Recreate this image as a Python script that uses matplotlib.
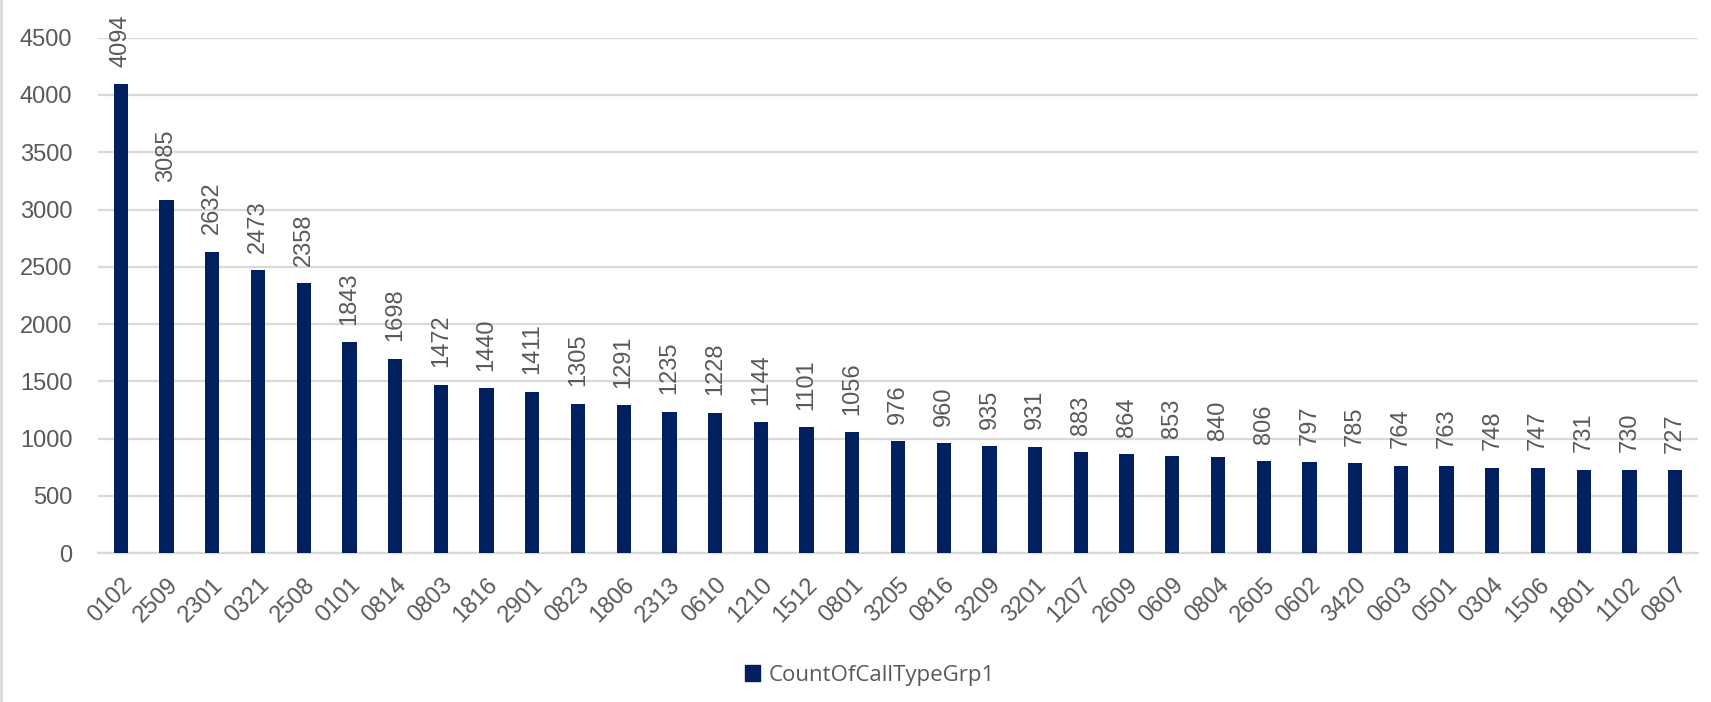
import matplotlib
matplotlib.use("Agg")
import matplotlib.pyplot as plt
from matplotlib.lines import Line2D
from matplotlib.patches import Patch
import numpy as np

categories = ["0102", "2509", "2301", "0321", "2508", "0101", "0814", "0803", "1816", "2901",
              "0823", "1806", "2313", "0610", "1210", "1512", "0801", "3205", "0816", "3209",
              "3201", "1207", "2609", "0609", "0804", "2605", "0602", "3420", "0603", "0501",
              "0304", "1506", "1801", "1102", "0807"]
values = [4094, 3085, 2632, 2473, 2358, 1843, 1698, 1472, 1440, 1411,
          1305, 1291, 1235, 1228, 1144, 1101, 1056, 976, 960, 935,
          931, 883, 864, 853, 840, 806, 797, 785, 764, 763,
          748, 747, 731, 730, 727]
series_name = "CountOfCallTypeGrp1"
yticks = [0, 500, 1000, 1500, 2000, 2500, 3000, 3500, 4000, 4500]

BAR = "#002060"
GREY = "#595959"
GRID = "#D9D9D9"

plt.rcParams['font.family'] = ['Liberation Sans', 'DejaVu Sans']

W, H = 1711, 702
fig = plt.figure(figsize=(W / 100, H / 100), dpi=100)
ax = fig.add_axes([98 / W, 1 - 553.3 / H, (1698 - 98) / W, (553.3 - 37.6) / H])

x = np.arange(len(categories))
bars = ax.bar(x, values, width=0.31, color=BAR, zorder=3)

FS = 17
ax.set_xlim(-0.5, len(categories) - 0.5)
ax.set_ylim(0, 4500)
ax.set_yticks(yticks)
ax.set_yticklabels([str(t) for t in yticks])
ax.yaxis.grid(True, color=GRID, linewidth=1.6, zorder=0)
ax.set_axisbelow(True)
for s in ["top", "right", "left"]:
    ax.spines[s].set_visible(False)
ax.spines["bottom"].set_color(GRID)
ax.spines["bottom"].set_linewidth(1.6)
ax.tick_params(axis="y", length=0, pad=18.5, labelsize=FS, labelcolor=GREY)
ax.tick_params(axis="x", length=0, pad=15, labelsize=FS, labelcolor=GREY)
ax.set_xticks(x)
ax.set_xticklabels(categories, rotation=45, ha="right", va="top", rotation_mode="anchor")

for xi, v in zip(x, values):
    ax.annotate(str(v), (xi, v), xytext=(0, 12.5), textcoords="offset points",
                rotation=90, ha="center", va="bottom", fontsize=FS, color=GREY)

handle = Patch(facecolor=BAR, edgecolor=BAR)
fig.legend([handle], [series_name], loc="center", bbox_to_anchor=(870 / W, 1 - 675 / H),
           frameon=False, handlelength=0.7, handleheight=0.7, handletextpad=0.4,
           labelcolor=GREY, prop={'family': ['Open Sans', 'DejaVu Sans'], 'size': 16})

fig.add_artist(Line2D([1 / W, 1 / W], [0, 1], color=GRID, linewidth=2, transform=fig.transFigure))

fig.savefig("out.png", dpi=100)
